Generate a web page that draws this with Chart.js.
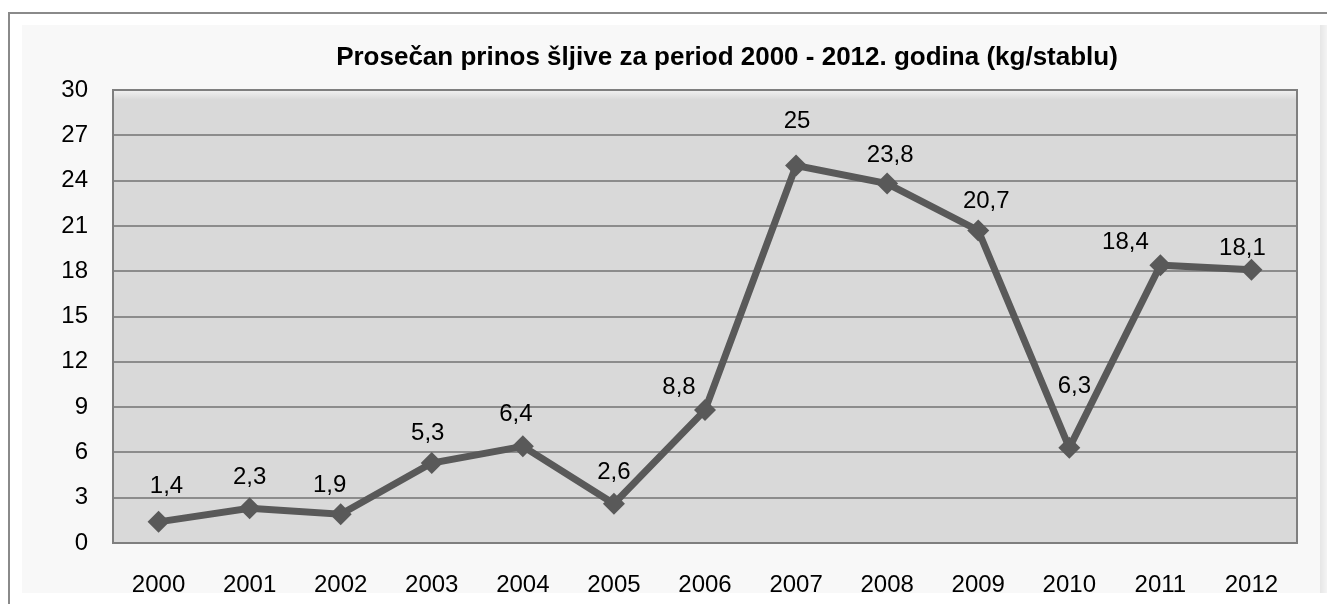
<!DOCTYPE html>
<html>
<head>
<meta charset="utf-8">
<script src="https://cdn.jsdelivr.net/npm/chart.js@4"></script>
<style>
  html, body { margin: 0; padding: 0; background: #fff; }
  canvas { display: block; }
</style>
</head>
<body>
<canvas id="chart" width="1327" height="604"></canvas>
<script>
// podaci sa slike
const chartTitle = 'Prosečan prinos šljive za period 2000 - 2012. godina (kg/stablu)';
const years = ['2000', '2001', '2002', '2003', '2004', '2005', '2006', '2007', '2008', '2009', '2010', '2011', '2012'];
const yieldKg = [1.4, 2.3, 1.9, 5.3, 6.4, 2.6, 8.8, 25, 23.8, 20.7, 6.3, 18.4, 18.1];
const yMin = 0, yMax = 30, yStep = 3;

// pomeranje oznaka vrednosti (rucno pomerene u originalu), u pikselima od tacke
const labelDx = [8, 0, -11, -4, -7, 0, -26, 1, 3, 8, 5, -35, -9];
const labelDy = [-37, -33, -31, -31, -34, -33, -25, -46, -30, -31, -63, -25, -23];

const FONT = '"Liberation Sans", Arial, sans-serif';

// pozadina, okvir, naslov i oznake
const framePlugin = {
    id: 'frame',
    beforeDraw(chart) {
        const c = chart.ctx;
        const a = chart.chartArea;
        c.save();
        c.fillStyle = '#ffffff';
        c.fillRect(0, 0, chart.width, chart.height);
        // spoljni okvir
        c.strokeStyle = '#8a8a8a';
        c.lineWidth = 2;
        c.beginPath();
        c.moveTo(9, chart.height);
        c.lineTo(9, 13);
        c.lineTo(chart.width, 13);
        c.stroke();
        // unutrasnja povrsina
        c.fillStyle = '#f8f8f8';
        c.fillRect(22, 25, 1300, 568);
        const g = c.createLinearGradient(1320, 0, 1327, 0);
        g.addColorStop(0, '#e6e6e6');
        g.addColorStop(1, '#f4f4f4');
        c.fillStyle = g;
        c.fillRect(1320, 25, 7, 568);
        // plot area
        c.fillStyle = '#d9d9d9';
        c.fillRect(a.left, a.top, a.right - a.left, a.bottom - a.top);
        const bevel = c.createLinearGradient(0, a.top, 0, a.top + 10);
        bevel.addColorStop(0, '#f2f2f2');
        bevel.addColorStop(1, '#d9d9d9');
        c.fillStyle = bevel;
        c.fillRect(a.left, a.top, a.right - a.left, 10);
        c.restore();
    },
    beforeDatasetsDraw(chart) {
        const c = chart.ctx;
        const a = chart.chartArea;
        c.save();
        c.strokeStyle = '#7f7f7f';
        c.lineWidth = 2;
        c.strokeRect(a.left, a.top, a.right - a.left, a.bottom - a.top);
        c.restore();
    },
    afterDatasetsDraw(chart) {
        const c = chart.ctx;
        const meta = chart.getDatasetMeta(0);
        c.save();
        c.fillStyle = '#000';
        c.textAlign = 'center';
        c.textBaseline = 'alphabetic';
        c.font = '24px ' + FONT;
        meta.data.forEach((pt, i) => {
            c.fillText(String(yieldKg[i]).replace('.', ','), pt.x + labelDx[i], pt.y + labelDy[i] + 8.5);
        });
        c.font = 'bold 26px ' + FONT;
        c.fillText(chartTitle, 727, 65);
        c.restore();
    }
};

new Chart(document.getElementById('chart'), {
    type: 'line',
    data: {
        labels: years,
        datasets: [{
            data: yieldKg,
            borderColor: '#595959',
            borderWidth: 7,
            tension: 0,
            pointStyle: 'rectRot',
            pointRadius: 11,
            pointBackgroundColor: '#595959',
            pointBorderWidth: 0,
            pointHoverRadius: 11
        }]
    },
    options: {
        responsive: false,
        animation: false,
        devicePixelRatio: 1,
        layout: { padding: { top: 90, right: 30, left: 0, bottom: 0 } },
        plugins: { legend: { display: false }, tooltip: { enabled: false }, title: { display: false } },
        scales: {
            x: {
                offset: true,
                grid: { display: false, drawTicks: false },
                border: { display: false },
                ticks: { color: '#000', font: { family: FONT, size: 24 }, padding: 28, maxRotation: 0 },
                afterFit: s => { s.height = 61; }
            },
            y: {
                min: yMin,
                max: yMax,
                grid: { color: '#8c8c8c', lineWidth: 2, drawTicks: false },
                border: { display: false },
                ticks: { stepSize: yStep, color: '#000', font: { family: FONT, size: 24 }, padding: 25 },
                afterFit: s => { s.width = 113; }
            }
        }
    },
    plugins: [framePlugin]
});
</script>
</body>
</html>
